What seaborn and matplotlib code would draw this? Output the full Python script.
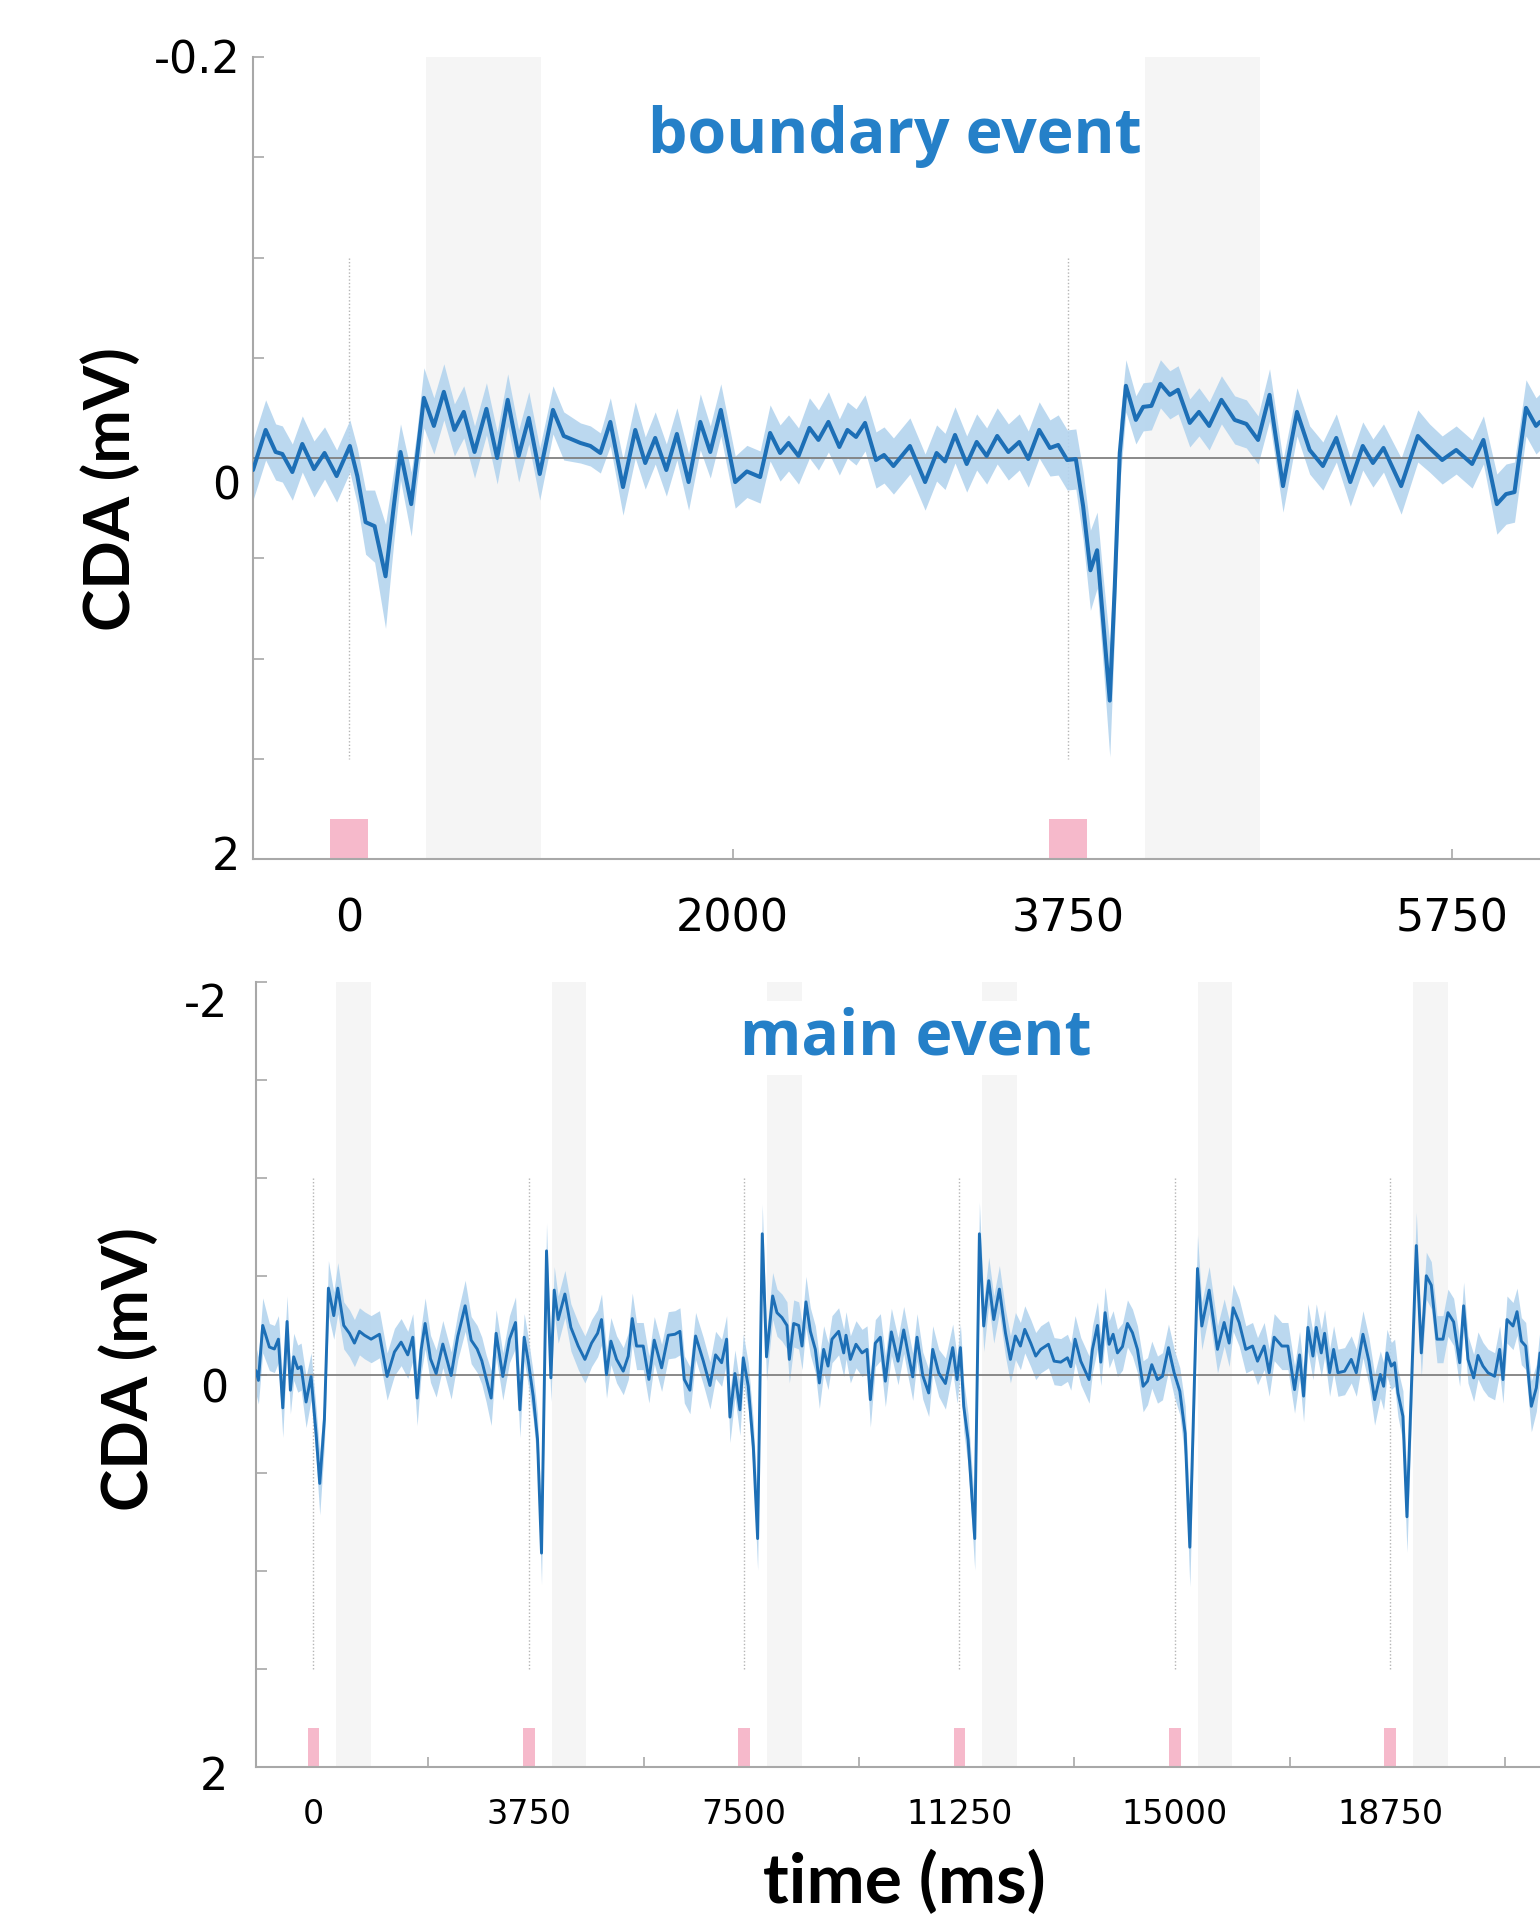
import numpy as np
import pandas as pd
import matplotlib
matplotlib.use("Agg")
import matplotlib.pyplot as plt
import seaborn as sns
from matplotlib.patches import Rectangle
from matplotlib.transforms import ScaledTranslation

# ---- boundary event (top panel) ----
top_time = [
    -500, -434, -382, -347, -295, -243, -182, -127, -64, 5,
    44, 87, 134, 191, 234, 269, 325, 353, 391, 443,
    495, 550, 599, 655, 717, 773, 828, 885, 938, 995,
    1064, 1120, 1207, 1259, 1311, 1363, 1429, 1493, 1545, 1597,
    1655, 1710, 1771, 1832, 1884, 1939, 2014, 2075, 2144, 2196,
    2248, 2292, 2344, 2401, 2448, 2500, 2557, 2599, 2644, 2691,
    2748, 2790, 2839, 2925, 3004, 3064, 3108, 3160, 3221, 3273,
    3325, 3380, 3438, 3495, 3542, 3599, 3655, 3698, 3745, 3790,
    3828, 3866, 3901, 3932, 3967, 3993, 4019, 4051, 4103, 4141,
    4184, 4231, 4280, 4323, 4384, 4432, 4485, 4549, 4618, 4679,
    4740, 4800, 4870, 4943, 5009, 5078, 5148, 5221, 5286, 5339,
    5394, 5486, 5573, 5634, 5700, 5773, 5856, 5915, 5985, 6033,
    6077, 6137, 6189, 6210]
top_cda = [
    0.06, -0.14, -0.03, -0.02, 0.07, -0.07, 0.055, -0.025, 0.09, -0.06,
    0.09, 0.32, 0.34, 0.59, 0.24, -0.03, 0.23, 0.01, -0.30, -0.16,
    -0.33, -0.14, -0.23, -0.03, -0.245, 0.0, -0.29, -0.01, -0.20, 0.08,
    -0.24, -0.11, -0.075, -0.06, -0.025, -0.18, 0.145, -0.14, 0.025, -0.10,
    0.06, -0.12, 0.12, -0.18, -0.03, -0.24, 0.12, 0.067, 0.095, -0.125,
    -0.025, -0.075, -0.01, -0.15, -0.09, -0.18, -0.055, -0.14, -0.105, -0.175,
    0.01, -0.015, 0.04, -0.06, 0.12, -0.025, 0.017, -0.115, 0.03, -0.08,
    -0.01, -0.11, -0.03, -0.08, 0.005, -0.14, -0.05, -0.065, 0.01, 0.005,
    0.24, 0.56, 0.46, 0.81, 1.21, 0.64, -0.025, -0.36, -0.19, -0.255,
    -0.26, -0.37, -0.315, -0.34, -0.175, -0.23, -0.16, -0.29, -0.19, -0.17,
    -0.09, -0.315, 0.14, -0.23, -0.04, 0.04, -0.10, 0.12, -0.06, 0.025,
    -0.05, 0.14, -0.11, -0.05, 0.01, -0.04, 0.03, -0.09, 0.23, 0.18,
    0.17, -0.25, -0.16, -0.18]
top_sem = [
    0.15, 0.15, 0.14, 0.14, 0.14, 0.14, 0.14, 0.13, 0.13, 0.13,
    0.14, 0.16, 0.18, 0.26, 0.18, 0.14, 0.16, 0.13, 0.15, 0.14,
    0.14, 0.13, 0.13, 0.13, 0.13, 0.13, 0.13, 0.13, 0.13, 0.13,
    0.12, 0.12, 0.10, 0.10, 0.10, 0.12, 0.14, 0.14, 0.13, 0.13,
    0.13, 0.13, 0.14, 0.14, 0.13, 0.13, 0.13, 0.13, 0.13, 0.14,
    0.14, 0.14, 0.14, 0.15, 0.15, 0.15, 0.14, 0.14, 0.14, 0.14,
    0.14, 0.14, 0.14, 0.14, 0.14, 0.14, 0.14, 0.14, 0.14, 0.14,
    0.14, 0.14, 0.14, 0.14, 0.14, 0.14, 0.14, 0.15, 0.15, 0.15,
    0.17, 0.20, 0.19, 0.22, 0.28, 0.22, 0.16, 0.13, 0.12, 0.12,
    0.12, 0.12, 0.12, 0.12, 0.12, 0.12, 0.12, 0.12, 0.12, 0.12,
    0.12, 0.13, 0.13, 0.12, 0.12, 0.12, 0.12, 0.12, 0.12, 0.12,
    0.12, 0.14, 0.13, 0.12, 0.12, 0.12, 0.12, 0.12, 0.15, 0.15,
    0.15, 0.14, 0.14, 0.14]
top_onsets = [0, 3750]
top_delay_start = [400, 4150]
top_xticks = [0, 2000, 3750, 5750]

# ---- main event (bottom panel) ----
main_time = [
    -1000, -958, -883, -767, -680, -610, -534, -459, -401, -343,
    -273, -215, -128, -41, 46, 110, 191, 261, 354, 424,
    528, 627, 714, 801, 888, 1004, 1150, 1283, 1411, 1527,
    1643, 1730, 1806, 1876, 1945, 2038, 2137, 2253, 2398, 2514,
    2642, 2747, 2851, 2932, 3008, 3095, 3182, 3298, 3414, 3519,
    3595, 3670, 3740, 3827, 3902, 3972, 4059, 4135, 4193, 4262,
    4379, 4483, 4611, 4727, 4843, 4948, 5017, 5104, 5180, 5279,
    5395, 5482, 5552, 5627, 5743, 5842, 5935, 6063, 6179, 6295,
    6382, 6458, 6556, 6655, 6788, 6905, 7003, 7108, 7195, 7253,
    7340, 7427, 7485, 7572, 7660, 7735, 7816, 7890, 7997, 8072,
    8159, 8246, 8287, 8363, 8450, 8508, 8577, 8653, 8740, 8810,
    8885, 8961, 9030, 9146, 9234, 9274, 9350, 9448, 9553, 9640,
    9698, 9785, 9872, 9959, 10064, 10180, 10279, 10354, 10436, 10511,
    10610, 10714, 10784, 10889, 11005, 11132, 11208, 11266, 11324, 11400,
    11516, 11597, 11672, 11760, 11847, 11945, 12050, 12137, 12224, 12311,
    12387, 12491, 12578, 12665, 12799, 12898, 13014, 13130, 13188, 13263,
    13362, 13507, 13565, 13653, 13711, 13786, 13856, 13925, 14001, 14088,
    14175, 14262, 14349, 14448, 14524, 14599, 14698, 14785, 14889, 14988,
    15087, 15180, 15261, 15395, 15470, 15598, 15743, 15859, 15946, 16016,
    16120, 16236, 16353, 16440, 16556, 16643, 16730, 16864, 16969, 17085,
    17172, 17242, 17317, 17405, 17463, 17550, 17608, 17695, 17765, 17840,
    17956, 18072, 18160, 18276, 18380, 18479, 18578, 18636, 18694, 18769,
    18827, 18885, 18972, 19042, 19205, 19292, 19379, 19466, 19565, 19669,
    19756, 19855, 19960, 20029, 20105, 20204, 20279, 20366, 20453, 20569,
    20656, 20714, 20784, 20889, 20959, 21034, 21110, 21208, 21295, 21359]
main_cda = [
    -0.02, 0.03, -0.25, -0.14, -0.13, -0.18, 0.17, -0.27, 0.08, -0.09,
    -0.03, -0.04, 0.14, 0.01, 0.30, 0.555, 0.23, -0.44, -0.30, -0.44,
    -0.25, -0.21, -0.16, -0.22, -0.20, -0.18, -0.205, 0.01, -0.115, -0.165,
    -0.10, -0.19, 0.12, -0.125, -0.26, -0.08, -0.005, -0.155, 0.005, -0.195,
    -0.35, -0.175, -0.13, -0.07, 0.02, 0.12, -0.21, 0.01, -0.18, -0.265,
    0.18, -0.19, -0.07, 0.11, 0.33, 0.91, -0.63, 0.017, -0.43, -0.28,
    -0.41, -0.24, -0.145, -0.077, -0.16, -0.21, -0.28, 0.0, -0.17, -0.077,
    -0.017, -0.094, -0.285, -0.145, -0.145, 0.025, -0.175, -0.034, -0.20, -0.205,
    -0.22, 0.025, 0.08, -0.196, -0.07, 0.056, -0.10, -0.06, -0.18, 0.217,
    -0.005, 0.18, -0.085, 0.06, 0.367, 0.836, -0.717, -0.09, -0.40, -0.315,
    -0.29, -0.25, -0.077, -0.26, -0.25, -0.145, -0.37, -0.22, -0.128, 0.043,
    -0.128, -0.043, -0.18, -0.22, -0.11, -0.20, -0.077, -0.154, -0.11, -0.128,
    0.128, -0.16, -0.19, 0.034, -0.217, -0.068, -0.227, -0.11, 0.012, -0.19,
    0.005, 0.094, -0.128, -0.008, 0.046, -0.137, 0.026, -0.137, 0.162, 0.333,
    0.836, -0.717, -0.247, -0.478, -0.28, -0.435, -0.213, -0.077, -0.196, -0.145,
    -0.23, -0.16, -0.094, -0.128, -0.154, -0.068, -0.063, -0.085, -0.04, -0.18,
    -0.068, 0.026, -0.128, -0.25, -0.063, -0.315, -0.154, -0.205, -0.11, -0.142,
    -0.26, -0.213, -0.128, 0.06, 0.034, -0.05, 0.026, 0.009, -0.137, -0.009,
    0.085, 0.30, 0.88, -0.54, -0.247, -0.43, -0.128, -0.265, -0.16, -0.34,
    -0.265, -0.128, -0.145, -0.068, -0.145, -0.009, -0.19, -0.145, -0.145, 0.077,
    -0.10, 0.11, -0.24, -0.094, -0.24, -0.11, -0.21, -0.009, -0.128, -0.009,
    -0.017, -0.077, -0.009, -0.205, -0.068, 0.128, 0.0, 0.06, -0.11, -0.043,
    -0.06, 0.094, 0.213, 0.725, -0.657, -0.11, -0.503, -0.455, -0.18, -0.18,
    -0.315, -0.268, -0.06, -0.35, -0.077, 0.017, -0.097, -0.043, -0.009, 0.009,
    -0.128, 0.026, -0.28, -0.247, -0.32, -0.17, -0.145, 0.162, 0.068, -0.11]
main_sem = [
    0.12, 0.12, 0.14, 0.12, 0.12, 0.12, 0.15, 0.13, 0.12, 0.12,
    0.12, 0.12, 0.13, 0.12, 0.13, 0.16, 0.13, 0.14, 0.12, 0.13,
    0.12, 0.12, 0.12, 0.12, 0.12, 0.12, 0.12, 0.12, 0.12, 0.12,
    0.12, 0.12, 0.14, 0.12, 0.13, 0.12, 0.12, 0.12, 0.12, 0.12,
    0.13, 0.12, 0.12, 0.12, 0.12, 0.14, 0.12, 0.12, 0.12, 0.13,
    0.14, 0.12, 0.12, 0.12, 0.13, 0.16, 0.14, 0.12, 0.12, 0.12,
    0.12, 0.12, 0.12, 0.12, 0.12, 0.12, 0.13, 0.12, 0.12, 0.12,
    0.12, 0.12, 0.13, 0.12, 0.12, 0.12, 0.12, 0.12, 0.12, 0.12,
    0.12, 0.12, 0.12, 0.12, 0.12, 0.12, 0.12, 0.12, 0.12, 0.13,
    0.12, 0.13, 0.12, 0.12, 0.13, 0.16, 0.15, 0.12, 0.12, 0.12,
    0.12, 0.12, 0.12, 0.12, 0.12, 0.12, 0.13, 0.12, 0.12, 0.13,
    0.12, 0.12, 0.12, 0.12, 0.12, 0.12, 0.12, 0.12, 0.12, 0.12,
    0.14, 0.12, 0.12, 0.13, 0.12, 0.12, 0.12, 0.12, 0.12, 0.12,
    0.12, 0.12, 0.12, 0.12, 0.13, 0.12, 0.12, 0.12, 0.13, 0.13,
    0.16, 0.16, 0.13, 0.12, 0.12, 0.12, 0.12, 0.12, 0.12, 0.12,
    0.12, 0.12, 0.12, 0.12, 0.12, 0.12, 0.12, 0.12, 0.12, 0.12,
    0.12, 0.12, 0.12, 0.12, 0.12, 0.13, 0.12, 0.12, 0.12, 0.12,
    0.12, 0.12, 0.12, 0.13, 0.12, 0.12, 0.12, 0.12, 0.12, 0.12,
    0.12, 0.14, 0.20, 0.17, 0.12, 0.12, 0.12, 0.12, 0.12, 0.12,
    0.12, 0.12, 0.12, 0.12, 0.12, 0.12, 0.12, 0.12, 0.12, 0.12,
    0.12, 0.13, 0.12, 0.12, 0.12, 0.12, 0.12, 0.12, 0.12, 0.12,
    0.12, 0.12, 0.12, 0.12, 0.12, 0.13, 0.12, 0.12, 0.12, 0.12,
    0.12, 0.12, 0.13, 0.18, 0.17, 0.12, 0.12, 0.12, 0.12, 0.12,
    0.12, 0.12, 0.12, 0.12, 0.12, 0.12, 0.12, 0.12, 0.12, 0.12,
    0.12, 0.12, 0.12, 0.12, 0.12, 0.12, 0.12, 0.13, 0.12, 0.12]
main_onsets = [0, 3750, 7500, 11250, 15000, 18750]
main_delay_start = [400, 4150, 7900, 11650, 15400, 19150]
main_xticks = [0, 3750, 7500, 11250, 15000, 18750]
main_minor_xticks = [2000, 5750, 9500, 13250, 17000, 20750]

delay_len = 600
cue_half = 100

LINE = "#1d6fb6"
BAND = "#b4d4ee"
TITLE = "#2580c8"
GREY = "#a8a8a8"

sns.set_style("white")
plt.rcParams["font.family"] = ["DejaVu Sans"]

W, H = 1540, 1916
fig = plt.figure(figsize=(W / 100, H / 100), dpi=100)
ax1 = fig.add_axes([253 / W, 1 - 859 / H, 1 - 253 / W, (859 - 57) / H])
ax2 = fig.add_axes([256 / W, 1 - 1767 / H, 1 - 256 / W, (1767 - 982) / H])


def panel(ax, t, v, sem, onsets, delays, xlim, lw):
    t = np.array(t)
    v = np.array(v)
    sem = np.array(sem)
    for s in delays:
        ax.axvspan(s, s + delay_len, color="#f5f5f5", lw=0, zorder=0)
    for on in onsets:
        ax.add_patch(Rectangle((on - cue_half, 1.8), 2 * cue_half, 0.2,
                               color="#f6b9cb", lw=0, zorder=1))
    ax.vlines(onsets, -1.0, 1.5, colors="#b5b5b5", linestyles=(0, (1, 1.5)),
              lw=1.0, zorder=1)
    ax.fill_between(t, v - sem, v + sem, color=BAND, alpha=0.9, lw=0, zorder=2)
    ax.axhline(0, color="#808080", lw=1.3, zorder=3)
    df = pd.DataFrame({"time": t, "cda": v})
    sns.lineplot(data=df, x="time", y="cda", ax=ax, color=LINE, lw=lw, zorder=4)
    ax.set_xlim(*xlim)
    ax.set_ylim(2, -2)
    ax.set_xlabel("")
    ax.set_ylabel("")
    for side in ["top", "right"]:
        ax.spines[side].set_visible(False)
    for side in ["left", "bottom"]:
        ax.spines[side].set_color(GREY)
        ax.spines[side].set_linewidth(1.5)
    ax.set_yticks([-2, 0, 2])
    ax.set_yticks([-1.5, -1, -0.5, 0.5, 1, 1.5], minor=True)
    ax.tick_params(axis="y", which="both", direction="in", length=8, width=1.2,
                   color=GREY, labelsize=32, labelcolor="black", left=True)


panel(ax1, top_time, top_cda, top_sem, top_onsets, top_delay_start, (-500, 6210), 2.9)
panel(ax2, main_time, main_cda, main_sem, main_onsets, main_delay_start, (-1000, 21359), 2.1)

ax1.set_yticklabels(["-0.2", "0", "2"])
ax2.set_yticklabels(["-2", "0", "2"])
ax1.tick_params(axis="y", pad=9)
ax2.tick_params(axis="y", pad=20)

ax1.set_xticks(top_xticks)
ax1.set_xticklabels([str(x) for x in top_xticks])
ax1.tick_params(axis="x", which="major", direction="in", length=7, width=1.2,
                color=GREY, labelsize=32, labelcolor="black", pad=28, bottom=True)

ax2.set_xticks(main_xticks)
ax2.set_xticklabels([str(x) for x in main_xticks])
ax2.set_xticks(main_minor_xticks, minor=True)
ax2.tick_params(axis="x", which="major", length=0, labelsize=24,
                labelcolor="black", pad=22)
ax2.tick_params(axis="x", which="minor", direction="in", length=7, width=1.2,
                color=GREY, bottom=True)

# small vertical shifts of the y tick labels, as in the original figure
shifts = {ax1: [0, 24, -6], ax2: [18, 11, 6]}
for ax, dys in shifts.items():
    for tick, dy in zip(ax.yaxis.get_major_ticks(), dys):
        lab = tick.label1
        lab.set_transform(lab.get_transform() +
                          ScaledTranslation(0, -dy / 100, fig.dpi_scale_trans))

fig.text(895 / W, 1 - 136 / H, "boundary event", ha="center", va="center",
         family="Open Sans", weight="bold", size=45, color=TITLE)
fig.text(916 / W, 1 - 1038 / H, "main event", ha="center", va="center",
         family="Open Sans", weight="bold", size=45, color=TITLE,
         bbox=dict(fc="white", ec="none", pad=4))

lab_font = dict(family="Lato", weight="bold", size=46, color="black")
fig.text(110 / W, 1 - 489 / H, "CDA (mV)", rotation=90, ha="center", va="center", **lab_font)
fig.text(128 / W, 1 - 1369 / H, "CDA (mV)", rotation=90, ha="center", va="center", **lab_font)
fig.text(904 / W, 1 - 1882 / H, "time (ms)", ha="center", va="center",
         family="Lato", weight="bold", size=50, color="black")

fig.savefig("out.png", dpi=100, facecolor="white")
